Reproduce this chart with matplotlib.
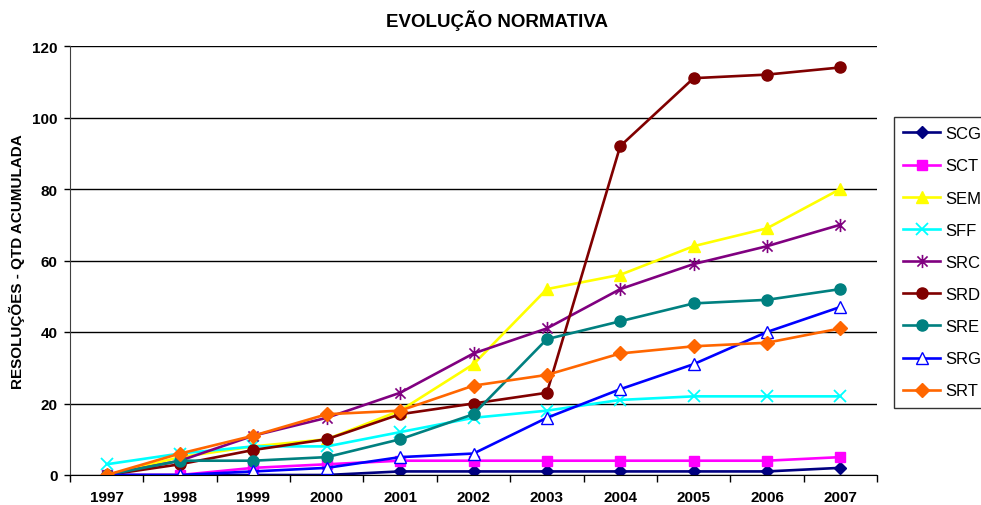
import matplotlib
matplotlib.use("Agg")
import matplotlib.pyplot as plt
from matplotlib.path import Path
import numpy as np

plt.rcParams['font.family'] = ['Liberation Sans', 'DejaVu Sans']

years = ['1997', '1998', '1999', '2000', '2001', '2002', '2003', '2004', '2005', '2006', '2007']
SCG = [0, 0, 0, 0, 1, 1, 1, 1, 1, 1, 2]
SCT = [0, 0, 2, 3, 4, 4, 4, 4, 4, 4, 5]
SEM = [0, 5, 8, 10, 18, 31, 52, 56, 64, 69, 80]
SFF = [3, 6, 8, 8, 12, 16, 18, 21, 22, 22, 22]
SRC = [0, 4, 11, 16, 23, 34, 41, 52, 59, 64, 70]
SRD = [0, 3, 7, 10, 17, 20, 23, 92, 111, 112, 114]
SRE = [0, 4, 4, 5, 10, 17, 38, 43, 48, 49, 52]
SRG = [0, 0, 1, 2, 5, 6, 16, 24, 31, 40, 47]
SRT = [0, 6, 11, 17, 18, 25, 28, 34, 36, 37, 41]

asterisk = Path([(-1, -1), (1, 1), (-1, 1), (1, -1), (0, -1.3), (0, 1.3)],
                [Path.MOVETO, Path.LINETO, Path.MOVETO, Path.LINETO, Path.MOVETO, Path.LINETO])

series = [
    ('SCG', SCG, dict(color='#000080', marker='D', ms=6.5, mfc='#000080')),
    ('SCT', SCT, dict(color='#FF00FF', marker='s', ms=7.5, mfc='#FF00FF')),
    ('SEM', SEM, dict(color='#FFFF00', marker='^', ms=9, mfc='#FFFF00')),
    ('SFF', SFF, dict(color='#00FFFF', marker='x', ms=9, mew=1.3)),
    ('SRC', SRC, dict(color='#800080', marker=asterisk, ms=9.5, mew=1.2)),
    ('SRD', SRD, dict(color='#800000', marker='o', ms=8, mfc='#800000')),
    ('SRE', SRE, dict(color='#008080', marker='o', ms=8, mfc='#008080')),
    ('SRG', SRG, dict(color='#0000FF', marker='^', ms=9, mfc='white', mew=1.0)),
    ('SRT', SRT, dict(color='#FF6600', marker='D', ms=7, mfc='#FF6600')),
]

fig = plt.figure(figsize=(9.81, 5.06), dpi=100)
ax = fig.add_axes([70/981, 1 - 476/506, (877-70)/981, (476-47)/506])

x = np.arange(len(years))
for name, vals, st in series:
    ax.plot(x, vals, lw=1.9, label=name, **st)

ax.set_xlim(-0.5, len(years) - 0.5)
ax.set_ylim(0, 120)
ax.set_yticks(np.arange(0, 121, 20))
ax.set_xticks(x)
ax.set_xticklabels(years, fontsize=11, fontweight='bold')
ax.set_xticks(np.arange(-0.5, len(years), 1), minor=True)
ax.tick_params(axis='x', which='major', length=0, pad=11)
ax.tick_params(axis='x', which='minor', length=5, width=1, direction='out')
ax.tick_params(axis='y', length=4, width=1, direction='out', labelsize=11, pad=5)
for lbl in ax.get_yticklabels():
    lbl.set_fontweight('bold')
ax.yaxis.grid(True, color='black', lw=1)
ax.set_axisbelow(True)
ax.spines['top'].set_visible(False)
ax.spines['right'].set_visible(False)
ax.spines['left'].set_color('#404040')
ax.spines['bottom'].set_color('black')

ax.set_ylabel('RESOLUÇÕES - QTD ACUMULADA', fontsize=11, fontweight='bold', labelpad=5)
fig.text(497/981, 1 - 21/506, 'EVOLUÇÃO NORMATIVA', ha='center', va='center',
         fontsize=13.5, fontweight='bold')

leg = fig.legend(loc='upper left', bbox_to_anchor=(894/981, 1 - 118/506),
                 fontsize=12, frameon=True, fancybox=False, edgecolor='black',
                 labelspacing=1.03, handlelength=2.2, handletextpad=0.3,
                 borderpad=0.55, borderaxespad=0)
leg.get_frame().set_linewidth(1.0)

fig.savefig('out.png', dpi=100)
